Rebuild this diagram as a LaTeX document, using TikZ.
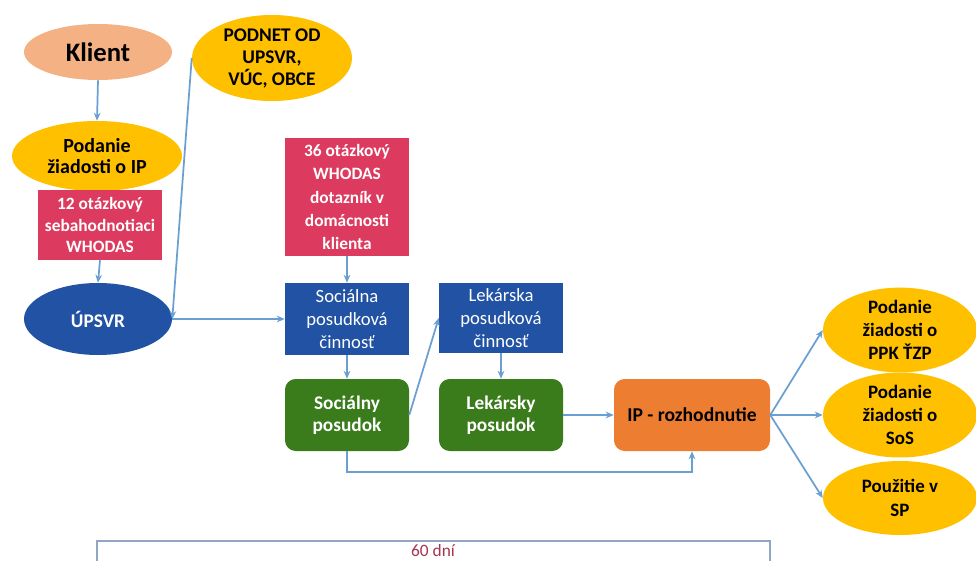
\documentclass[tikz,border=0pt]{standalone}
\usepackage{fontspec}
\setmainfont{Carlito}
\usetikzlibrary{shapes.geometric,arrows.meta}
\definecolor{salmon}{HTML}{F4B183}
\definecolor{gold}{HTML}{FFC000}
\definecolor{crim}{HTML}{DC3A5E}
\definecolor{dblue}{HTML}{2152A3}
\definecolor{dgreen}{HTML}{3A7B1C}
\definecolor{orng}{HTML}{ED7D31}
\definecolor{connc}{HTML}{6A9FD2}
\definecolor{framec}{HTML}{8FA7C4}
\definecolor{redtxt}{HTML}{A3354F}
\begin{document}
\begin{tikzpicture}[x=0.75pt,y=-0.75pt,
  ell/.style={ellipse,inner sep=0pt,align=center,font=\bfseries\fontsize{14.5}{16.5}\selectfont},
  boxc/.style={rectangle,inner sep=0pt,align=center},
  crimbox/.style={boxc,fill=crim,text=white,font=\bfseries\fontsize{13}{16}\selectfont},
  bluebox/.style={boxc,fill=dblue,text=white,font=\fontsize{14}{17.5}\selectfont},
  greenbox/.style={boxc,rounded corners=8pt,fill=dgreen,text=white,font=\bfseries\fontsize{14.5}{16.5}\selectfont},
  conn/.style={draw=connc,line width=1.3pt,-{Stealth[length=6pt,width=5pt]}},
]
\useasboundingbox (0,0) rectangle (976,561);
\clip (0,0) rectangle (976,561);
\fill[white] (0,0) rectangle (976,561);

% left column
\node[ell,fill=salmon,minimum width=148*0.75pt,minimum height=56*0.75pt,font=\bfseries\fontsize{20}{22}\selectfont] (klient) at (98,52) {Klient};
\node[ell,fill=gold,minimum width=170*0.75pt,minimum height=70*0.75pt,font=\bfseries\fontsize{15}{16}\selectfont] (podanie) at (97,156) {Podanie\\žiadosti o IP};
\node[crimbox,minimum width=124*0.75pt,minimum height=70*0.75pt] (q12) at (100,225) {12 otázkový\\sebahodnotiaci\\WHODAS};
\node[ell,fill=dblue,text=white,minimum width=148*0.75pt,minimum height=72*0.75pt] (upsvr) at (98,319) {ÚPSVR};
\node[ell,fill=gold,minimum width=160*0.75pt,minimum height=86*0.75pt] (podnet) at (272,58) {PODNET OD\\UPSVR,\\VÚC, OBCE};

% middle
\node[crimbox,minimum width=124*0.75pt,minimum height=118*0.75pt,font=\bfseries\fontsize{13}{17.3}\selectfont] (q36) at (347,197) {36 otázkový\\WHODAS\\dotazník v\\domácnosti\\klienta};
\node[bluebox,minimum width=124*0.75pt,minimum height=72*0.75pt] (socc) at (347,319) {Sociálna\\posudková\\činnosť};
\node[greenbox,minimum width=124*0.75pt,minimum height=72*0.75pt] (socp) at (347,415) {Sociálny\\posudok};
\node[bluebox,minimum width=124*0.75pt,minimum height=70*0.75pt] (lekc) at (501,318) {Lekárska\\posudková\\činnosť};
\node[greenbox,minimum width=124*0.75pt,minimum height=72*0.75pt] (lekp) at (501,415) {Lekársky\\posudok};
\node[boxc,rounded corners=8pt,fill=orng,text=black,font=\bfseries\fontsize{14.7}{16.5}\selectfont,minimum width=156*0.75pt,minimum height=72*0.75pt] (ip) at (692,415) {IP - rozhodnutie};

% right ellipses
\node[ell,fill=gold,minimum width=154*0.75pt,minimum height=80*0.75pt,font=\bfseries\fontsize{14.2}{17.5}\selectfont] (e1) at (900,330) {Podanie\\žiadosti o\\PPK ŤZP};
\node[ell,fill=gold,minimum width=154*0.75pt,minimum height=72*0.75pt,font=\bfseries\fontsize{14.2}{17.5}\selectfont] (e2) at (900,415) {Podanie\\žiadosti o\\SoS};
\node[ell,fill=gold,minimum width=154*0.75pt,minimum height=74*0.75pt,font=\bfseries\fontsize{14.2}{17.5}\selectfont] (e3) at (900,498) {Použitie v\\SP};

% bottom frame
\draw[framec,line width=0.8pt] (97,541) rectangle (770,580);
\node[text=redtxt,font=\fontsize{13}{15}\selectfont] (dni) at (433,551) {60 dní};

% connectors
\draw[conn] (klient.south) -- (podanie.north);
\draw[conn] (q12.south) -- (upsvr.north);
\draw[conn] (podnet.west) -- (upsvr.east);
\draw[conn] (upsvr.east) -- (socc.west);
\draw[conn] (q36.south) -- (socc.north);
\draw[conn] (socc.south) -- (socp.north);
\draw[conn] (socp.east) -- (lekc.west);
\draw[conn] (lekc.south) -- (lekp.north);
\draw[conn] (lekp.east) -- (ip.west);
\draw[conn] (socp.south) -- (347,472) -| (ip.south);
\draw[conn] (ip.east) -- (e1.west);
\draw[conn] (ip.east) -- (e2.west);
\draw[conn] (ip.east) -- (e3.west);
\end{tikzpicture}
\end{document}
